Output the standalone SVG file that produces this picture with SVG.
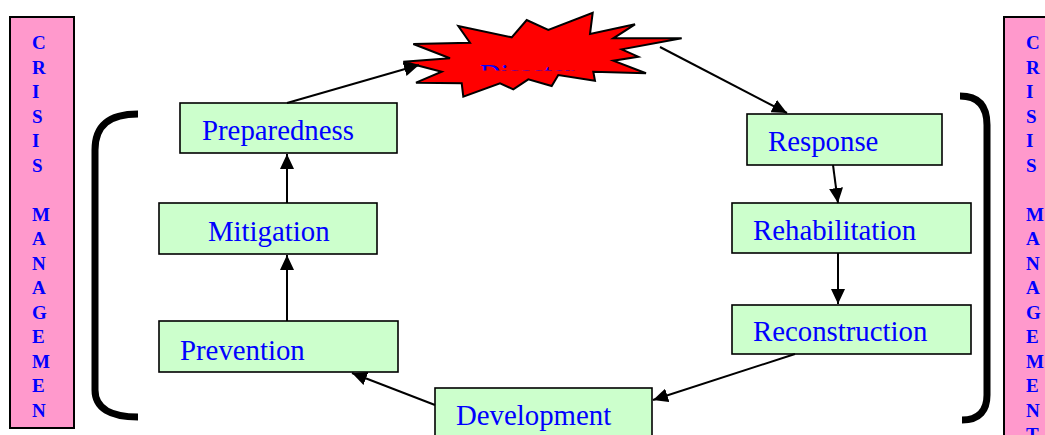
<svg xmlns="http://www.w3.org/2000/svg" width="1045" height="435" viewBox="0 0 1045 435">
<style>
.side{fill:#FF99CC;stroke:#000;stroke-width:2}
.sl{font-family:"Liberation Serif","Times New Roman",serif;font-weight:bold;font-size:19px;fill:#0000FF}
.box{fill:#CCFFCC;stroke:#000;stroke-width:1.6}
.lbl{font-family:"Liberation Serif","Times New Roman",serif;font-size:28.8px;fill:#0000FF}
.brk{fill:none;stroke:#000;stroke-width:7}
.con{fill:none;stroke:#000;stroke-width:2}
</style>
<defs>
<marker id="ah" markerUnits="userSpaceOnUse" markerWidth="16" markerHeight="14" refX="15" refY="7" orient="auto">
<path d="M0,0 L15,7 L0,14 z" fill="#000"/>
</marker>
<clipPath id="rc"><rect x="470" y="55" width="120" height="15.5"/></clipPath>
</defs>
<rect width="1045" height="435" fill="#fff"/>
<g id="side-left">
<rect class="side" x="10" y="17" width="64" height="411"/>
<text class="sl" x="32"><tspan x="32" y="49">C</tspan><tspan x="32" y="73.5">R</tspan><tspan x="32" y="98">I</tspan><tspan x="32" y="122.5">S</tspan><tspan x="32" y="147">I</tspan><tspan x="32" y="171.5">S</tspan><tspan x="32" y="220.5">M</tspan><tspan x="32" y="245">A</tspan><tspan x="32" y="269.5">N</tspan><tspan x="32" y="294">A</tspan><tspan x="32" y="318.5">G</tspan><tspan x="32" y="343">E</tspan><tspan x="32" y="367.5">M</tspan><tspan x="32" y="392">E</tspan><tspan x="32" y="416.5">N</tspan></text>
</g>
<g id="side-right">
<rect class="side" x="1004" y="17" width="60" height="430"/>
<text class="sl" x="1026"><tspan x="1026" y="49">C</tspan><tspan x="1026" y="73.5">R</tspan><tspan x="1026" y="98">I</tspan><tspan x="1026" y="122.5">S</tspan><tspan x="1026" y="147">I</tspan><tspan x="1026" y="171.5">S</tspan><tspan x="1026" y="220.5">M</tspan><tspan x="1026" y="245">A</tspan><tspan x="1026" y="269.5">N</tspan><tspan x="1026" y="294">A</tspan><tspan x="1026" y="318.5">G</tspan><tspan x="1026" y="343">E</tspan><tspan x="1026" y="367.5">M</tspan><tspan x="1026" y="392">E</tspan><tspan x="1026" y="416.5">N</tspan><tspan x="1026" y="441">T</tspan></text>
</g>
<g id="brackets">
<path class="brk" d="M138,114 C110,114 95,125 95,150 L95,390 C95,408 110,417 138,417"/>
<path class="brk" d="M960,96 C980,96 987,108 987,125 L987,395 C987,410 980,420 962,420"/>
</g>
<g id="disaster">
<polygon fill="#FF0000" stroke="#000" stroke-width="2" stroke-linejoin="miter" points="413.3,44 470,42.7 458.3,26 511.7,37.3 526.7,20 548.3,30 592.7,12.7 590,34 635,24.3 613.3,38.3 681.7,38.3 621.7,49.3 638.3,56.7 613.3,60.7 646,73.3 593.3,71.7 595,80.7 558.3,75 551.7,86 528.3,79.3 513.3,89.3 500,83.3 463.3,96.7 461.7,83.3 416,82.7 441.7,71.7 403.3,61.7 450,58.3"/>
<text class="lbl" x="480" y="84" clip-path="url(#rc)">Disaster</text>
</g>
<g id="preparedness">
<rect class="box" x="180" y="103" width="217" height="50"/>
<text class="lbl" x="202" y="140">Preparedness</text>
</g>
<g id="mitigation">
<rect class="box" x="159" y="203" width="218" height="51"/>
<text class="lbl" x="208" y="241">Mitigation</text>
</g>
<g id="prevention">
<rect class="box" x="159" y="321" width="239" height="51"/>
<text class="lbl" x="180" y="360">Prevention</text>
</g>
<g id="response">
<rect class="box" x="747" y="114" width="195" height="51"/>
<text class="lbl" x="768" y="151">Response</text>
</g>
<g id="rehabilitation">
<rect class="box" x="732" y="203" width="239" height="50"/>
<text class="lbl" x="753" y="240">Rehabilitation</text>
</g>
<g id="reconstruction">
<rect class="box" x="732" y="305" width="239" height="49"/>
<text class="lbl" x="753" y="341">Reconstruction</text>
</g>
<g id="development">
<rect class="box" x="435" y="388" width="217" height="60"/>
<text class="lbl" x="456" y="425">Development</text>
</g>
<g id="connectors">
<line class="con" x1="287" y1="321" x2="287" y2="255" marker-end="url(#ah)"/>
<line class="con" x1="287" y1="203" x2="287" y2="154" marker-end="url(#ah)"/>
<line class="con" x1="287" y1="103" x2="419" y2="65" marker-end="url(#ah)"/>
<line class="con" x1="660" y1="47" x2="787" y2="113" marker-end="url(#ah)"/>
<line class="con" x1="833" y1="165" x2="838" y2="203" marker-end="url(#ah)"/>
<line class="con" x1="838" y1="253" x2="838" y2="304" marker-end="url(#ah)"/>
<line class="con" x1="795" y1="354" x2="653" y2="400" marker-end="url(#ah)"/>
<line class="con" x1="435" y1="405" x2="352" y2="373" marker-end="url(#ah)"/>
</g>
</svg>
